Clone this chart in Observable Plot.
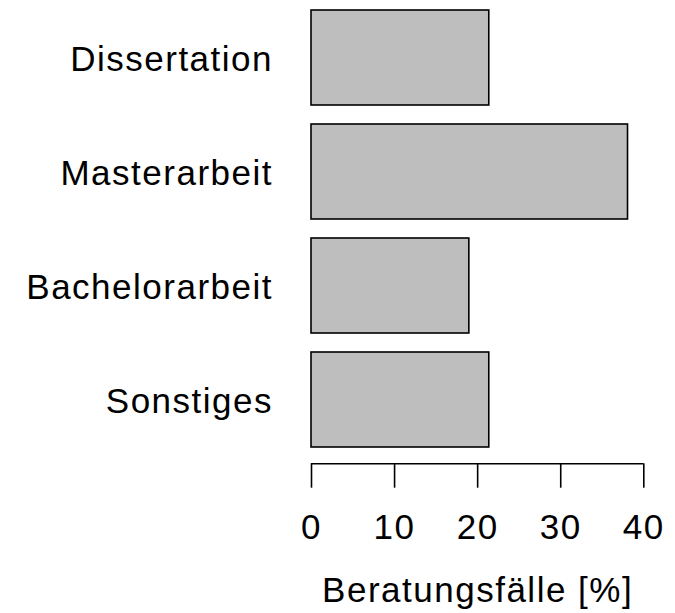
<!DOCTYPE html>
<html>
<head>
<meta charset="utf-8">
<script src="https://cdn.jsdelivr.net/npm/d3@7"></script>
<script src="https://cdn.jsdelivr.net/npm/@observablehq/plot@0.6"></script>
<style>
  html, body { margin: 0; padding: 0; background: #fff; }
  svg text { letter-spacing: 1.5px; }
</style>
</head>
<body>
<div id="chart"></div>
<script>
const categories = ["Dissertation", "Masterarbeit", "Bachelorarbeit", "Sonstiges"];
const values = [21.4, 38.1, 19.0, 21.4];
const xTicks = [0, 10, 20, 30, 40];
const xLabel = "Beratungsfälle [%]";

const data = categories.map((c, i) => ({cat: c, value: values[i]}));

const chart = Plot.plot({
  width: 675,
  height: 613,
  marginLeft: 311,
  marginRight: 31.7,
  marginTop: 0,
  marginBottom: 149.7,
  style: {fontFamily: "'Liberation Sans', Arial, sans-serif", fontSize: "35px", color: "#000", background: "#fff"},
  x: {domain: [0, 40]},
  y: {domain: categories, range: [9, 447.3], paddingInner: 0.2 / 1.2, paddingOuter: 0, align: 0.5},
  marks: [
    Plot.barX(data, {x: "value", y: "cat", fill: "#bebebe", stroke: "#000", strokeWidth: 1.6}),
    Plot.ruleY([0], {y: null, x1: xTicks[0], x2: xTicks[xTicks.length - 1], stroke: "#000", strokeWidth: 1.6, dy: 231.65}),
    Plot.axisX({ticks: xTicks, tickSize: 24.4, tickPadding: 26, fontSize: 35, strokeWidth: 1.6, label: null, tickFormat: d => String(d)}),
    Plot.axisY({tickSize: 0, tickPadding: 38.5, fontSize: 35, label: null, dy: 1.5}),
    Plot.text([xLabel], {text: d => d, frameAnchor: "bottom", lineAnchor: "bottom", dy: 138.4, fontSize: 35})
  ]
});
document.getElementById("chart").appendChild(chart);
</script>
</body>
</html>
